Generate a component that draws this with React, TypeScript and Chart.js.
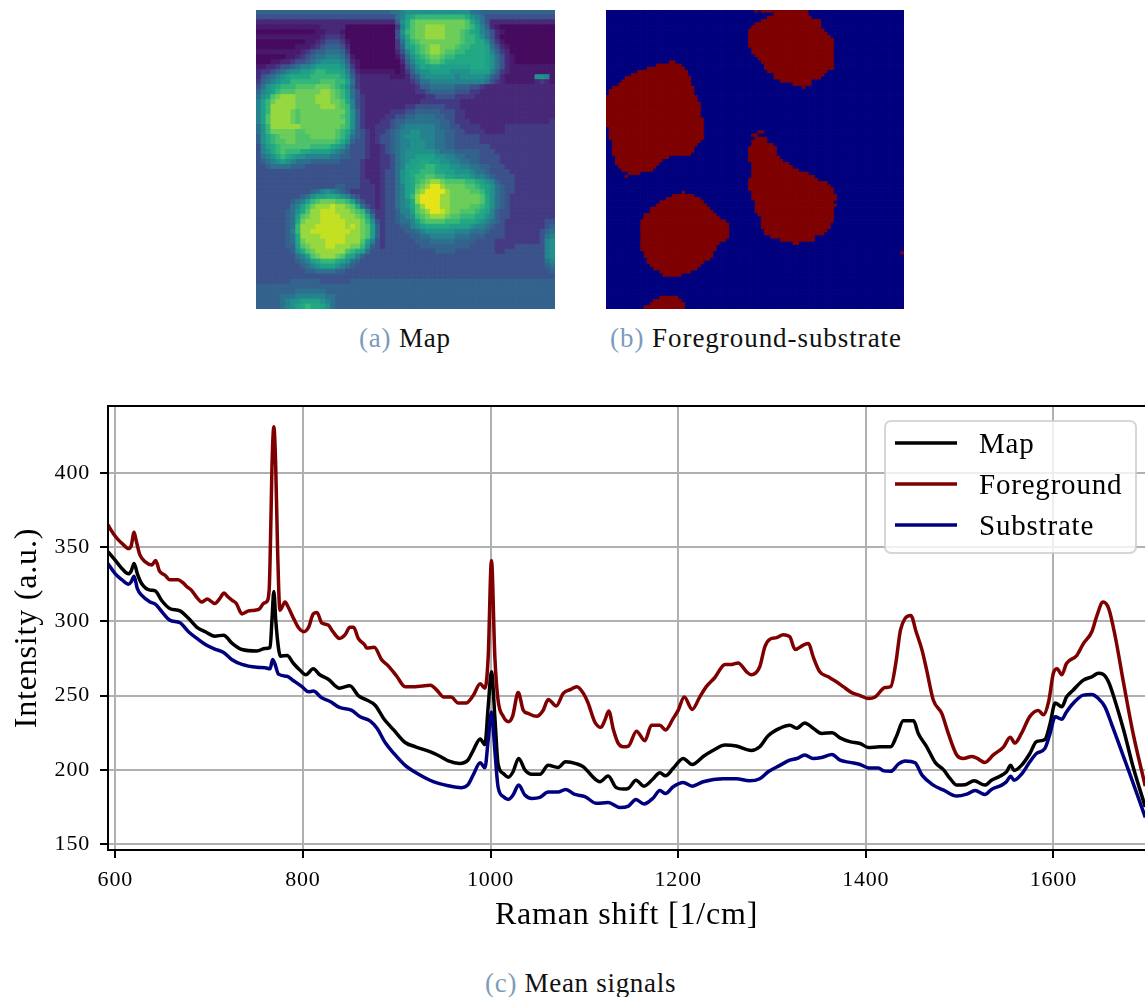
import React, { useEffect, useRef } from "react";
import { Chart, registerables } from "chart.js";

Chart.register(...registerables);

// ---------- (a) Map: intensity level per cell (base-17 digit, 0 = darkest, g = brightest) ----------
const mapRows: string[] = [
  "5555555555 5555555555 5555555667 8888888888 8886655555 5555555555",
  "4444444444 4444444444 4444444467 9abbbbbbbb bba8764444 4444444444",
  "2222222222 2222222222 2222222258 acdddddddd ddca864222 2222222222",
  "1111111111 1112222200 0000000037 acddeeeedd ddcb975210 0000000000",
  "0000000000 0011222100 0000000048 bcddeeeedd dcba976421 0000000000",
  "1111111111 1112333200 0000000047 acddeeeedd dcbba86420 0000000000",
  "0000000000 1123444310 0000000036 9bcddddddd dcbbaa8531 0000000000",
  "0000000011 1234555420 0000000035 9abcdeeddd cbbaaa9642 1000000000",
  "1111111112 3455666530 0000000024 79bcdeedcc bbaaaa9753 2000000000",
  "0000001123 4566777641 0000000013 68abcddcbb aaaaaa9864 2100000000",
  "0001122344 5678888752 1000000002 579abccbaa aaaaaa9864 2100000000",
  "1122344567 7899999863 1000000001 468a9aa999 999aaa9864 2111111111",
  "2334567889 9abbaaa974 2111111101 3578899998 8889999753 2111111111",
  "2456789aaa abbbbbba85 3222222111 2457888888 7888887542 1111118871",
  "3567899bbb bbbcccbb96 3222222222 2346677777 7777776432 1111112321",
  "4689abbbcc ccdddcba85 3222222222 2235566666 5554432222 2222222222",
  "5789bcccdd dddeedcb96 4222222222 2233455555 4443322222 2222222222",
  "689cdeeedd ddeeedcb96 4322222222 2222334444 3333222222 2222222222",
  "79bdeeeedd ddeeeddca7 4322222222 2223333333 3222222222 2222222222",
  "79beeeeedd dddeeedcb7 4322222222 3344444433 3222222222 2222222222",
  "79beeeedcd ddddddddb8 5322222333 4455555444 3322222222 2222222222",
  "79ceeeedcd dddddddcb8 5322223344 5566665544 3322222222 2222222222",
  "79ceeeedcd ddddddddb8 5322233455 6666666554 3332222222 2222222223",
  "68beeeeeed dddddddcb8 5322333456 7777776554 4333322222 3333333333",
  "68bdddddcc ddddddcba7 5432334567 7887776655 4433332222 3333333333",
  "58abcdddcc cdddddcb96 5432344567 8887776655 4444433333 3333333333",
  "58abccddcc ccccccba85 4432344567 7888776655 4444433333 3333333333",
  "479abccccc cbbbba9864 4432234567 7888776655 4444444333 3333333333",
  "478abcbbba a999987654 4432234567 8888887666 5555544433 3333333333",
  "4678aba988 7777766554 4432233467 8899998877 6655544443 3333333333",
  "4567898766 6555555444 4322233467 899aa99887 7665544443 3333333333",
  "4456666555 4444444444 4322233467 99aabba998 8776655444 3333333333",
  "4444444444 4444444444 4322234468 9aabbbaa99 8887665444 4333333333",
  "4444444444 4444444444 4322234468 9abbccbbaa 9998776544 4433333333",
  "4444444444 4444444444 4332234468 9abcdeedcc ccbba98754 4433333333",
  "4444444444 4444445544 4333234467 9acdeggedd ddccba9865 4433333333",
  "4444444444 4567876543 3333234467 9adegggged dddccb9865 4433333333",
  "4444444445 6899aa9875 4333234467 9beggggeed dddddca865 4333333333",
  "4444444567 9bcdddccb9 6433234467 8aeggggeed dddddca865 4333333333",
  "4444444679 bdeeefeedc a643234467 8acegggeed dddccba865 4333333333",
  "444444568a ceefffeeed cb74334457 79cdeggfed dcccba9754 4333333333",
  "444444569c deeffffeee dca6334456 78bcdeeedc cbbbaa8754 4333333333",
  "44444456ad eeefffffee edb8434456 679bccccbb baaa987654 3333333344",
  "44444456be eeffffffef edc9534445 5789aaaaa9 9998776544 3333333345",
  "44444457be effffffffe edc9534444 5567888888 7776665444 3333333456",
  "44444456ae eeefffffee edc9534444 4556677777 6665554444 3333333467",
  "44444456ad eeeeffffee ec97434444 4455566666 5555444433 3333333478",
  "444444559c deeeffeeed db85434444 4445555555 5554444433 3344444478",
  "444444458a cdeeeeeecb a964444444 4444445555 4444444433 4444444478",
  "4444444467 9cdeeedca9 7544444444 4444444444 4444444444 4444444478",
  "4444444456 79abbba986 5444444444 4444444444 4444444444 4444444467",
  "4444444445 6789998765 4444444444 4444444444 4444444444 4444444456",
  "4444444444 5566665544 4444444444 4444444444 4444444444 4444444445",
  "4444444444 4444444444 4444444444 4444444444 4444444444 4444444444",
  "4444444555 5554444445 5555555555 5555555555 5555555555 5555555555",
  "5555555555 5555555555 5555555555 5555555555 5555555555 5555555555",
  "5555555566 6666555555 5555555555 5555555555 5555555555 5555555555",
  "5555566677 7777665555 5555555555 5555555555 5555555555 5555555555",
  "5555567889 9998765555 5555555555 5555555555 5555555555 5555555555",
  "555556789a baa9865555 5555555555 5555555555 5555555555 5555555555",
];
const mapColors = ["#460b5e", "#481a6c", "#482878", "#443a83", "#3b528b", "#33638d", "#2c728e", "#26828e", "#21918c", "#1fa088", "#22a884", "#35b779", "#4ec36b", "#6ccd5a", "#96d83f", "#c4e022", "#e5e419"];

// ---------- (b) Foreground-substrate: foreground runs [row, firstColumn, endColumn) on a 94 x 94 grid ----------
const maskSize = 94;
const foregroundRuns: number[][] = [
  [0, 47, 48], [0, 49, 64], [1, 53, 64], [2, 51, 65], [3, 49, 68], [4, 47, 68], [5, 46, 68], [6, 45, 69], [7, 45, 70], [8, 45, 71],
  [9, 45, 72], [10, 45, 72], [11, 45, 72], [12, 46, 72], [13, 46, 72], [14, 47, 72], [15, 48, 72], [16, 49, 72], [17, 50, 72], [18, 50, 72],
  [19, 51, 70], [20, 53, 69], [21, 53, 68], [22, 55, 65], [23, 59, 65], [24, 62, 63],
  [16, 20, 22], [17, 16, 24], [18, 13, 25], [19, 10, 26], [20, 8, 26], [21, 6, 27], [22, 5, 27], [23, 4, 27], [24, 2, 28], [25, 1, 28], [26, 1, 28],
  [27, 0, 29], [28, 0, 29], [29, 0, 30], [30, 0, 30], [31, 0, 30], [32, 0, 30], [33, 0, 30], [34, 0, 31], [35, 0, 31], [36, 0, 31],
  [37, 1, 31], [38, 1, 31], [39, 1, 31], [40, 1, 31], [41, 2, 30], [42, 2, 29], [43, 2, 28], [44, 2, 28], [45, 2, 27], [46, 3, 20], [47, 3, 18],
  [48, 3, 17], [49, 4, 16], [50, 5, 15], [51, 7, 11], [52, 6, 7],
  [57, 24, 25], [58, 21, 28], [59, 19, 30], [60, 17, 31], [61, 16, 32], [62, 14, 33], [63, 14, 34], [64, 12, 35], [65, 12, 36], [66, 11, 38],
  [67, 11, 39], [68, 11, 39], [69, 11, 39], [70, 11, 39], [71, 11, 39], [72, 11, 38], [73, 11, 36], [74, 11, 35], [75, 11, 35], [76, 12, 34], [77, 12, 34],
  [78, 13, 33], [79, 13, 31], [80, 14, 30], [81, 15, 29], [82, 17, 27], [83, 18, 24],
  [38, 48, 50], [39, 46, 48], [40, 47, 51], [41, 46, 51], [42, 46, 53], [43, 45, 54], [44, 45, 54], [45, 45, 54], [46, 45, 55], [47, 45, 56],
  [48, 46, 58], [49, 46, 59], [50, 46, 61], [51, 46, 64], [52, 46, 66], [53, 45, 67], [54, 45, 70], [55, 45, 71], [56, 45, 72], [57, 46, 72],
  [58, 46, 73], [59, 46, 73], [60, 47, 72], [61, 47, 73], [62, 47, 72], [63, 47, 72], [64, 48, 72], [65, 49, 72], [66, 49, 72], [67, 49, 71],
  [68, 49, 71], [69, 50, 70], [70, 50, 69], [71, 52, 66], [72, 55, 66], [73, 59, 61],
  [90, 17, 23], [91, 15, 24], [92, 14, 25], [93, 12, 25], [76, 93, 94],
];
const maskColors = ["#00007f", "#7f0000"];

// ---------- (c) Mean signals ----------
const foregroundX = [592, 598, 603, 608, 614, 617, 620, 622, 626, 632, 639, 643, 647, 653, 658, 667, 672, 677, 681, 687, 692, 698, 706, 711, 716, 720, 725, 729, 735, 742, 749, 754, 758, 761, 764, 766, 767, 769, 771, 773, 775.5, 781, 784, 790, 795, 801, 806, 811, 815, 820, 827, 832, 839, 845, 850, 854, 859, 866, 868, 876, 884, 891, 900, 909, 920, 927, 936, 943, 950, 953, 958, 965.5, 974, 981.5, 989, 994, 997.5, 1001, 1004.6, 1008, 1013.5, 1019, 1023.5, 1029.5, 1035, 1040, 1049, 1056, 1061.5, 1070, 1077.5, 1085, 1092, 1099, 1104, 1111, 1117.6, 1122, 1126, 1131, 1136, 1141.5, 1147, 1155.6, 1164.5, 1171.6, 1180.5, 1186.6, 1194.7, 1200, 1206.5, 1215, 1223, 1230, 1239, 1250, 1257, 1264, 1273, 1278, 1287, 1292.5, 1298, 1305, 1312, 1319, 1324.7, 1333.5, 1339, 1344, 1351, 1360, 1367, 1376, 1385, 1394, 1403, 1410, 1420.6, 1426.6, 1432, 1437, 1442, 1448, 1453.7, 1460, 1465, 1472, 1481, 1488, 1497, 1504, 1513, 1518, 1527, 1536, 1547, 1554, 1559, 1566, 1575, 1584, 1589.4, 1595, 1600, 1604, 1609, 1614, 1625, 1632, 1641, 1646, 1653, 1659, 1666, 1675, 1685, 1698];
const foregroundY = [365, 359, 355, 352, 349, 351, 360, 355, 345, 340, 338, 341, 334, 331, 328, 328, 326, 323, 321, 316, 313, 315, 312, 315, 319, 316.5, 314, 312, 305, 307, 307.5, 308.6, 312, 313, 321, 372, 404, 431, 404, 348, 307.5, 313, 310, 302, 296, 293, 296, 305, 306, 299, 297.5, 293, 288.5, 291, 296, 296, 288.5, 284, 282, 282.5, 274, 270, 263, 256, 256, 256.5, 257, 253.5, 249, 249, 249, 245, 245, 250, 258, 255, 276, 341, 276, 247, 236, 232.4, 236, 252, 240, 238, 236, 240, 247.4, 243, 251.5, 254, 256, 251.5, 245, 232.4, 228.6, 233.5, 239.6, 227, 218, 215.5, 216, 226, 219.6, 230, 230, 226.8, 234.6, 240, 249, 240.7, 249, 256, 262, 271, 271, 272, 266, 264, 269.4, 283, 288, 289, 291, 289.6, 281, 284, 285, 276, 266, 262.6, 260, 256, 252, 250, 248, 249, 255.4, 256, 271.6, 294, 302, 304, 293, 280.6, 267, 247, 238, 224.5, 210, 207.6, 209, 208, 205, 210, 215.5, 222, 218, 224.5, 236, 240, 237, 246, 265, 268, 264, 271.6, 277, 285, 293, 303, 313, 308.6, 289.6, 258, 224.5, 189];

const mapX = [592, 600, 607, 614, 617, 620, 623.5, 628, 637, 642.6, 649.4, 658, 669, 678, 687, 696, 706, 715.5, 724, 735, 751, 759.6, 765, 767, 769, 771, 774, 776, 783, 790, 797, 803, 811, 818, 827, 839, 850, 859, 868, 877, 886, 897, 909, 920, 936, 947, 955, 967, 976, 981.5, 989, 994, 997.5, 1001, 1004.6, 1008, 1013.5, 1019, 1024, 1030, 1036.6, 1044, 1052.6, 1061.5, 1072, 1080, 1092, 1099, 1111, 1116.6, 1125.4, 1134, 1141.5, 1147, 1155, 1163.5, 1173.4, 1180.5, 1186.6, 1194.7, 1205.4, 1215, 1226.7, 1237, 1250, 1262, 1278, 1287, 1296, 1308.5, 1319, 1326.5, 1335, 1344, 1353, 1364, 1372.6, 1383, 1394, 1403, 1415, 1426.6, 1433, 1440, 1451, 1456, 1465, 1474, 1483, 1490, 1497, 1506, 1515.5, 1527, 1534, 1543, 1550, 1554.6, 1558, 1566, 1575, 1582, 1591, 1596.5, 1602, 1609, 1614, 1621, 1632, 1641, 1648, 1653, 1659, 1666, 1675, 1685, 1698];
const mapY = [347, 341, 335.6, 332, 334, 339, 332, 325.5, 321, 320.5, 314, 308.6, 307, 302, 296, 293, 290, 290.7, 285.5, 281, 280, 281.7, 282.4, 301, 320, 301, 281.7, 276.5, 277, 271.6, 267, 264, 268, 264, 261, 255, 256.6, 250, 247, 243.5, 234.6, 226.7, 218.4, 215.5, 212, 208.8, 206, 204.3, 206.6, 213, 220.7, 217, 242.5, 266, 235.7, 204, 197.6, 195, 198.7, 207.7, 200, 197, 197, 203, 201.6, 205.4, 204, 202, 194, 192, 195.8, 188, 187, 187.5, 193, 189, 194, 198, 196, 201, 207.7, 203.6, 209, 213, 216.7, 216, 213, 215.5, 223, 228, 230, 228, 231.6, 228, 224.5, 225, 221.5, 219, 217.7, 215, 215.5, 215.5, 223, 233, 233, 224.5, 215.5, 205, 200, 194, 189.7, 190, 192.6, 189.7, 193, 195.7, 198.6, 203, 199.6, 203, 211, 219, 220.4, 231, 245, 242.4, 249, 253.6, 260.4, 262.6, 265, 264.4, 259, 246, 226.7, 202, 175];

const substrateX = [592, 600, 607, 614, 617, 620, 623.5, 628, 637, 642.6, 651.5, 658, 669, 678, 687, 696, 706, 715.5, 724, 735, 751, 759.6, 765, 767.7, 770, 774, 783, 790, 799, 806, 811, 820, 829, 839, 852, 861, 871.5, 879, 888, 897, 909, 922, 939, 955, 969, 976, 981.5, 989, 994, 997.5, 1001, 1004.6, 1008, 1013.5, 1019, 1024, 1030, 1036.6, 1044, 1052.6, 1061.5, 1072, 1080, 1090, 1100.6, 1113, 1125.4, 1138, 1147, 1155, 1163.5, 1173.4, 1180.5, 1186.6, 1194.7, 1205.4, 1215, 1226.7, 1248, 1262, 1276, 1287, 1296, 1308.5, 1319, 1326.5, 1335, 1344, 1353, 1364, 1372.6, 1383, 1394, 1403, 1413.5, 1419, 1426.6, 1435, 1442, 1452.6, 1460, 1472, 1483, 1497, 1507.7, 1516.6, 1527, 1534, 1545, 1550, 1554.6, 1558, 1566, 1575, 1582, 1591, 1596.5, 1602, 1609, 1614, 1621, 1632, 1641, 1648, 1655, 1662, 1671, 1682, 1698];
const substrateY = [339, 332, 328, 325, 326.6, 330.4, 322, 317.6, 313, 311.6, 305, 300.8, 299, 293, 288.5, 284.4, 281.3, 279, 274.3, 271, 269, 268.7, 268, 274.3, 271.6, 264.4, 263, 260, 256, 252.5, 253, 248.5, 246, 242, 240, 235.7, 233, 228, 218, 211, 203, 197.5, 192, 189.3, 188, 190, 196.5, 204.8, 201.4, 220, 239, 213, 188.6, 182, 180, 183, 189.7, 183, 180.7, 181.4, 185, 185, 186.8, 183.4, 182, 177.4, 178, 174.7, 175.6, 180, 177, 181, 186, 184, 188.6, 191.5, 189, 192, 194, 194, 192.6, 194, 198.7, 203, 206.5, 207.6, 210, 207.6, 208.3, 210.3, 206.5, 205, 203.6, 201.3, 201.3, 199.3, 199, 204, 206, 204.7, 196.4, 189.7, 186.3, 182.3, 183.6, 186, 183.4, 186.8, 189.7, 192, 195.7, 193, 197, 205.4, 211, 214.4, 224.5, 235.7, 234, 239, 244.7, 250.3, 250.7, 248, 242.4, 231, 215.5, 196.4, 168];

const xTicks = [600, 800, 1000, 1200, 1400, 1600];
const yTicks = [150, 200, 250, 300, 350, 400];
const seriesNames = ["Map", "Foreground", "Substrate"];
const seriesColors = ["#000000", "#7f0000", "#00007f"];
const xLabel = "Raman shift [1/cm]";
const yLabel = "Intensity (a.u.)";

const SERIF = '"Liberation Serif", "Times New Roman", serif';
const zip = (xs: number[], ys: number[]) => xs.map((x, i) => ({ x, y: ys[i] }));

const frameAndLegend = {
  id: "frameAndLegend",
  beforeDraw(chart: any) {
    chart.ctx.letterSpacing = "0.8px";
  },
  afterDraw(chart: any) {
    const { ctx, chartArea: a } = chart;
    ctx.save();
    ctx.strokeStyle = "#000";
    ctx.lineWidth = 2;
    ctx.strokeRect(a.left, a.top, a.right - a.left + 4, a.bottom - a.top);
    // legend
    const bx = 885, by = 21, bw = 251, bh = 132;
    ctx.beginPath();
    ctx.roundRect(bx, by, bw, bh, 6);
    ctx.fillStyle = "rgba(255,255,255,0.8)";
    ctx.fill();
    ctx.strokeStyle = "rgba(204,204,204,0.8)";
    ctx.lineWidth = 2;
    ctx.stroke();
    ctx.font = `29px ${SERIF}`;
    ctx.textBaseline = "middle";
    chart.data.datasets.forEach((d: any, i: number) => {
      const y = by + 22 + i * 41;
      ctx.beginPath();
      ctx.moveTo(895, y);
      ctx.lineTo(957, y);
      ctx.strokeStyle = d.borderColor;
      ctx.lineWidth = 3.5;
      ctx.stroke();
      ctx.fillStyle = "#000";
      ctx.fillText(d.label, 979, y + 2);
    });
    ctx.restore();
  },
};

function heatmapOptions(n: number, radius: number): any {
  return {
    responsive: false,
    animation: false,
    layout: { padding: 0, autoPadding: false },
    plugins: { legend: { display: false }, tooltip: { enabled: false } },
    scales: {
      x: { type: "linear", display: false, min: -0.5, max: n - 0.5 },
      y: { type: "linear", display: false, min: -0.5, max: n - 0.5, reverse: true },
    },
    elements: { point: { pointStyle: "rect", radius, hoverRadius: radius, borderWidth: 1 } },
  };
}

function makeMapDataset() {
  const data: { x: number; y: number }[] = [];
  const colors: string[] = [];
  mapRows.forEach((row, r) => {
    row.replace(/ /g, "").split("").forEach((ch, c) => {
      data.push({ x: c, y: r });
      colors.push(mapColors[parseInt(ch, 17)]);
    });
  });
  return { data, pointBackgroundColor: colors, pointBorderColor: colors, clip: 0 };
}

function makeMaskDataset() {
  const grid: number[][] = Array.from({ length: maskSize }, () => new Array(maskSize).fill(0));
  foregroundRuns.forEach(([r, a, b]) => {
    for (let c = a; c < b; c++) grid[r][c] = 1;
  });
  const data: { x: number; y: number }[] = [];
  const colors: string[] = [];
  grid.forEach((row, r) =>
    row.forEach((v, c) => {
      data.push({ x: c, y: r });
      colors.push(maskColors[v]);
    })
  );
  return { data, pointBackgroundColor: colors, pointBorderColor: colors, clip: 0 };
}

function useChart(make: (c: HTMLCanvasElement) => Chart) {
  const ref = useRef<HTMLCanvasElement>(null);
  useEffect(() => {
    const chart = make(ref.current!);
    return () => chart.destroy();
  }, []);
  return ref;
}

const abs = (left: number, top: number): React.CSSProperties => ({ position: "absolute", left, top, display: "block" });

const captionStyle = (left: number, top: number, spacing: number): React.CSSProperties => ({
  position: "absolute",
  left,
  top,
  font: `27px ${SERIF}`,
  letterSpacing: `${spacing}px`,
  color: "#111",
  whiteSpace: "nowrap",
  lineHeight: "30px",
});
const tag: React.CSSProperties = { color: "#7a9cbc" };

export default function App() {
  const mapRef = useChart(
    (c) =>
      new Chart(c, {
        type: "scatter",
        data: { datasets: [makeMapDataset()] } as any,
        options: heatmapOptions(mapRows.length, 299 / mapRows.length / Math.SQRT2),
      })
  );
  const maskRef = useChart(
    (c) =>
      new Chart(c, {
        type: "scatter",
        data: { datasets: [makeMaskDataset()] } as any,
        options: heatmapOptions(maskSize, 298 / maskSize / Math.SQRT2),
      })
  );
  const lineRef = useChart(
    (c) =>
      new Chart(c, {
        type: "scatter",
        plugins: [frameAndLegend],
        data: {
          datasets: [
            { label: seriesNames[0], data: zip(mapX, mapY), borderColor: seriesColors[0], order: 1 },
            { label: seriesNames[1], data: zip(foregroundX, foregroundY), borderColor: seriesColors[1], order: 2 },
            { label: seriesNames[2], data: zip(substrateX, substrateY), borderColor: seriesColors[2], order: 0 },
          ].map((d) => ({ ...d, showLine: true, borderWidth: 3.5, pointRadius: 0, cubicInterpolationMode: "monotone", borderJoinStyle: "round" })),
        } as any,
        options: {
          responsive: false,
          animation: false,
          layout: { padding: { top: 6, left: 0, right: 0, bottom: 0 }, autoPadding: false },
          plugins: { legend: { display: false }, tooltip: { enabled: false } },
          scales: {
            x: {
              type: "linear",
              min: 592.2,
              max: 1697.7,
              afterFit: (s: any) => {
                s.height = 85;
                s.paddingLeft = 0;
                s.paddingRight = 0;
              },
              afterBuildTicks: (s: any) => {
                s.ticks = xTicks.map((value) => ({ value }));
              },
              ticks: { font: { family: SERIF, size: 22 }, color: "#000", maxRotation: 0, padding: 9, autoSkip: false, includeBounds: false, callback: (v: any) => String(v) },
              grid: { color: "#b0b0b0", lineWidth: 2, tickLength: 8, tickColor: "#000", tickWidth: 2 },
              border: { display: false },
              title: { display: true, text: xLabel, font: { family: SERIF, size: 32 }, color: "#000", padding: { top: 8, bottom: 0 } },
            },
            y: {
              type: "linear",
              min: 146,
              max: 445,
              afterFit: (s: any) => {
                s.width = 108;
                s.paddingTop = 0;
                s.paddingBottom = 0;
              },
              afterBuildTicks: (s: any) => {
                s.ticks = yTicks.map((value) => ({ value }));
              },
              ticks: { font: { family: SERIF, size: 22 }, color: "#000", padding: 10, includeBounds: false, callback: (v: any) => String(v) },
              grid: { color: "#b0b0b0", lineWidth: 2, tickLength: 8, tickColor: "#000", tickWidth: 2 },
              border: { display: false },
              title: { display: true, text: yLabel, font: { family: SERIF, size: 32 }, color: "#000", padding: { top: 8, bottom: 0 } },
            },
          },
        },
      } as any)
  );

  return (
    <div style={{ position: "absolute", left: 0, top: 0, width: 1145, height: 997, overflow: "hidden", background: "#fff" }}>
      <canvas ref={mapRef} width={299} height={299} style={abs(256, 10)} />
      <canvas ref={maskRef} width={298} height={299} style={abs(606, 10)} />
      <div style={captionStyle(359, 323, 0.8)}>
        <span style={tag}>(a)</span> Map
      </div>
      <div style={captionStyle(610, 323, 0.95)}>
        <span style={tag}>(b)</span> Foreground-substrate
      </div>
      <canvas ref={lineRef} width={1145} height={535} style={abs(0, 400)} />
      <div style={captionStyle(485, 968, 0.7)}>
        <span style={tag}>(c)</span> Mean signals
      </div>
    </div>
  );
}
